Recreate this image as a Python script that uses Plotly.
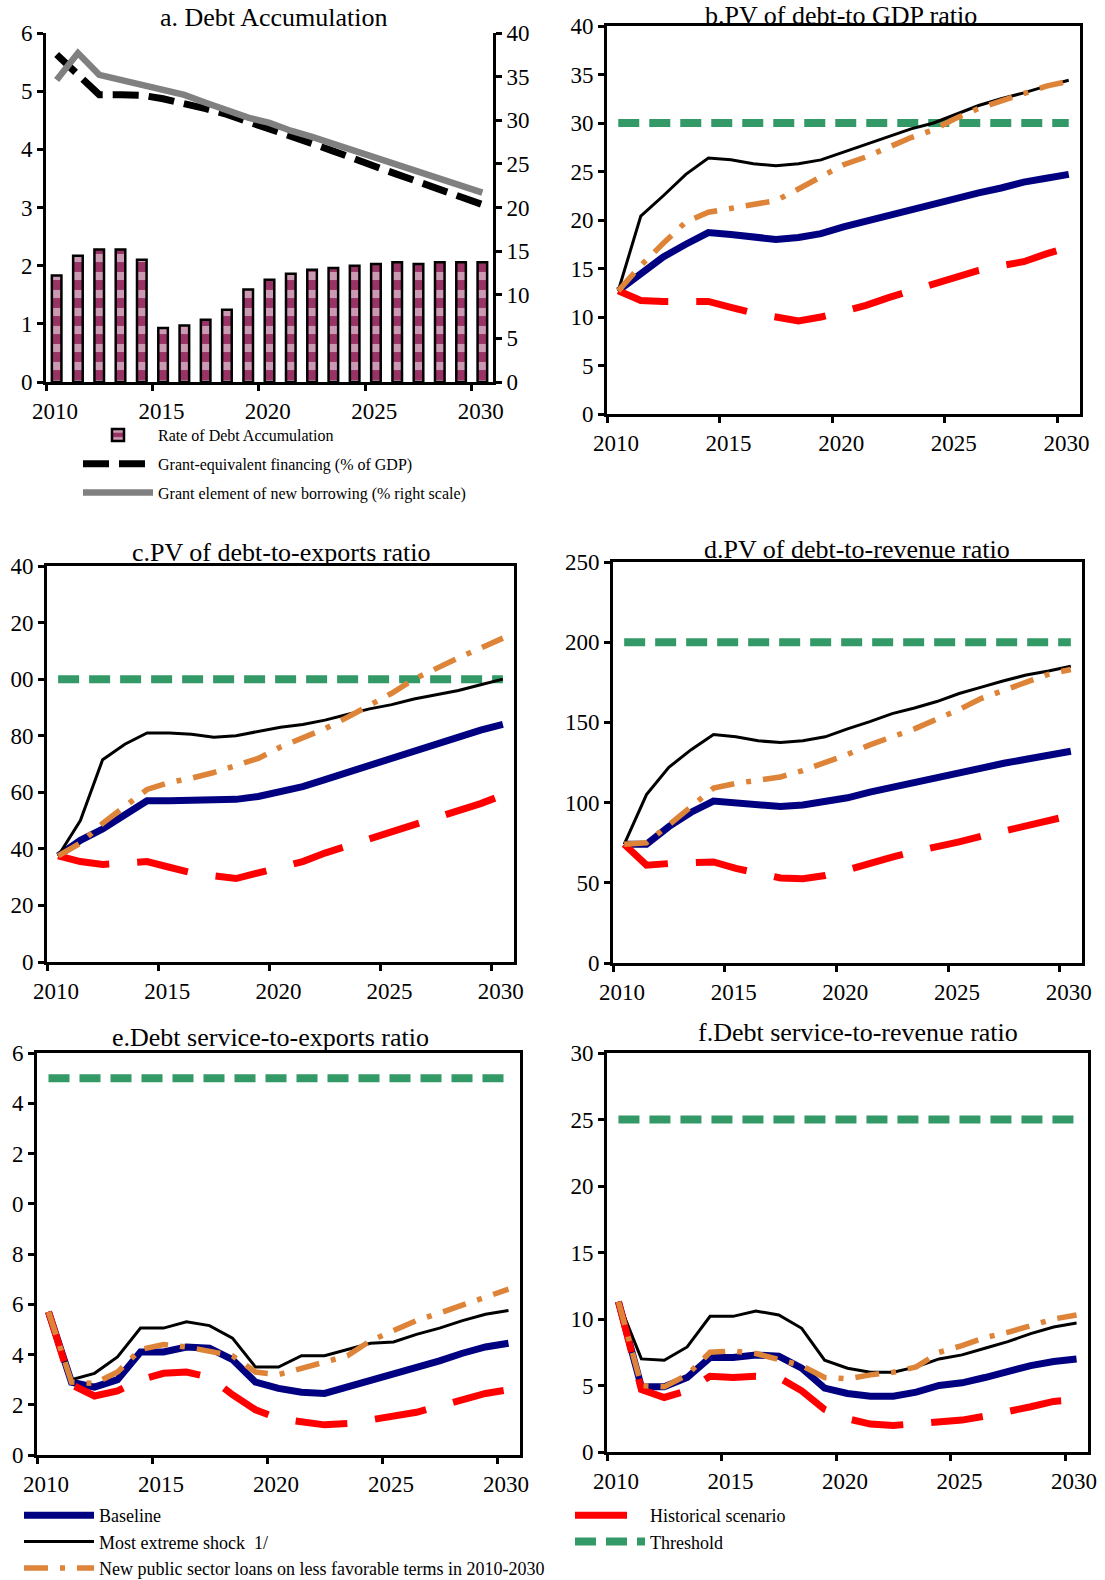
import plotly.graph_objects as go

W, H = 1105, 1580
FONT = "Liberation Serif"

years = list(range(2010, 2031))
tick_years = [2010, 2015, 2020, 2025, 2030]

# ---- Panel a: Debt accumulation ----
debt_accum = [1.83, 2.17, 2.28, 2.28, 2.10, 0.93, 0.97, 1.07, 1.24, 1.59, 1.76,
              1.86, 1.93, 1.96, 2.00, 2.03, 2.06, 2.03, 2.06, 2.06, 2.06]
grant_equiv = [5.63, 5.30, 4.94, 4.94, 4.93, 4.87, 4.80, 4.70, 4.60, 4.48, 4.37,
               4.23, 4.10, 3.97, 3.85, 3.70, 3.57, 3.45, 3.32, 3.18, 3.05]
grant_element = [34.6, 37.7, 35.2, 34.6, 34.0, 33.5, 32.9, 32.0, 31.2, 30.3, 29.7,
                 28.8, 28.1, 27.3, 26.5, 25.6, 24.9, 24.0, 23.2, 22.4, 21.7]

# ---- Panel b: PV of debt-to-GDP ----
b_base = [12.7, 14.5, 16.2, 17.5, 18.7, 18.5, 18.3, 18.0, 18.2, 18.6, 19.3,
          19.9, 20.5, 21.0, 21.6, 22.2, 22.8, 23.3, 23.9, 24.3, 24.7]
b_ext = [12.7, 20.4, 22.5, 24.7, 26.4, 26.2, 25.8, 25.6, 25.8, 26.2, 27.0,
         27.8, 28.6, 29.4, 30.0, 30.9, 31.8, 32.5, 33.1, 33.8, 34.4]
b_new = [12.7, 15.3, 17.6, 19.8, 20.8, 21.2, 21.5, 22.0, 23.2, 24.5, 25.7,
         26.5, 27.5, 28.5, 29.3, 30.5, 31.5, 32.3, 33.0, 33.8, 34.3]
b_hist = [12.7, 11.7, 11.6, 11.6, 11.6, 11.0, 10.4, 10.0, 9.6, 10.0, 10.6,
          11.2, 12.0, 12.7, 13.3, 14.0, 14.8, 15.3, 15.7, 16.5, 17.2]
b_thr = 30

# ---- Panel c: PV of debt-to-exports ----
c_base = [37.5, 43.0, 47.0, 52.0, 57.0, 57.0, 57.0, 57.0, 57.5, 58.5, 60.0,
          62.0, 64.5, 67.0, 70.0, 72.5, 75.0, 77.5, 79.5, 82.0, 84.0]
c_ext = [37.5, 50.0, 71.5, 77.0, 81.0, 81.0, 80.5, 79.5, 80.0, 81.5, 83.0,
         84.0, 85.5, 87.5, 89.5, 91.0, 93.0, 94.5, 96.0, 98.0, 100.0]
c_new = [37.5, 42.0, 49.0, 55.0, 61.0, 63.5, 65.0, 67.0, 69.5, 72.0, 76.0,
         79.0, 82.5, 86.5, 90.5, 95.0, 100.0, 104.0, 107.5, 111.0, 114.5]
c_hist = [37.5, 35.5, 34.5, 35.0, 35.5, 33.5, 31.5, 30.5, 29.5, 31.5, 33.5,
          35.5, 38.5, 41.0, 43.5, 45.5, 48.5, 51.0, 53.5, 56.0, 59.0]
c_thr = 100
c_ticks = [0, 20, 40, 60, 80, 100, 120, 140]
c_ticklabels = ["0", "20", "40", "60", "80", "00", "20", "40"]

# ---- Panel d: PV of debt-to-revenue ----
d_base = [74, 74, 85, 94, 101, 100, 99, 97.5, 98.5, 100.5, 103,
          106.5, 109.5, 113, 116, 119.5, 122, 124.5, 127, 129.5, 132]
d_ext = [74, 105, 122, 133, 142.5, 141, 138.5, 137.5, 138.5, 141, 146,
         150.5, 155.5, 159, 163, 168, 172, 176, 179.5, 182, 185]
d_new = [74, 75, 86, 98, 109, 112, 114, 116, 120, 125, 130,
         136, 141, 146, 152, 158, 165, 170, 175, 180, 183]
d_hist = [74, 61, 62, 62.5, 63, 59, 55.5, 53, 52.5, 54.5, 58,
          62.5, 66, 69.5, 72, 75.5, 79, 82, 85, 88, 92]
d_thr = 200

# ---- Panel e: Debt service-to-exports ----
e_base = [5.7, 2.9, 2.7, 3.0, 4.1, 4.1, 4.3, 4.25, 3.8, 2.9, 2.65,
          2.5, 2.45, 2.7, 3.0, 3.2, 3.45, 3.75, 4.05, 4.3, 4.45]
e_ext = [5.7, 3.0, 3.25, 3.9, 5.05, 5.05, 5.3, 5.15, 4.65, 3.5, 3.5,
         3.95, 3.95, 4.2, 4.45, 4.5, 4.8, 5.05, 5.35, 5.6, 5.75]
e_new = [5.7, 2.9, 2.85, 3.3, 4.2, 4.4, 4.3, 4.1, 3.95, 3.3, 3.2,
         3.45, 3.7, 3.95, 4.55, 4.95, 5.35, 5.65, 5.95, 6.3, 6.6]
e_hist = [5.7, 2.8, 2.35, 2.55, 3.0, 3.25, 3.3, 3.1, 2.4, 1.8, 1.45,
          1.3, 1.2, 1.25, 1.4, 1.5, 1.7, 1.95, 2.2, 2.45, 2.6]
e_thr = 15
e_ticks = [0, 2, 4, 6, 8, 10, 12, 14, 16]
e_ticklabels = ["0", "2", "4", "6", "8", "0", "2", "4", "6"]

# ---- Panel f: Debt service-to-revenue ----
f_base = [11.3, 4.9, 4.9, 5.6, 7.1, 7.1, 7.3, 7.2, 6.3, 4.8, 4.4,
          4.2, 4.2, 4.5, 5.0, 5.2, 5.6, 6.1, 6.5, 6.8, 7.0]
f_ext = [11.3, 7.0, 6.9, 7.9, 10.2, 10.2, 10.6, 10.3, 9.3, 6.9, 6.3,
         6.0, 6.0, 6.4, 7.0, 7.3, 7.8, 8.3, 8.9, 9.4, 9.7]
f_new = [11.3, 5.0, 4.9, 5.8, 7.5, 7.6, 7.4, 7.0, 6.5, 5.6, 5.5,
         5.8, 6.0, 6.4, 7.5, 8.0, 8.6, 9.0, 9.5, 10.0, 10.3]
f_hist = [11.3, 4.7, 4.1, 4.6, 5.7, 5.6, 5.7, 5.6, 4.6, 3.2, 2.5,
          2.1, 2.0, 2.1, 2.3, 2.4, 2.7, 3.0, 3.4, 3.8, 3.95]
f_thr = 25

# ---- styles ----
NAVY, RED, ORANGE, GREEN = "#000080", "#FF0000", "#DE8439", "#339966"
MAROON, GRAY = "#993366", "#808080"


def fx(px):
    return px / W


def fy(py):
    return 1 - py / H


fig = go.Figure()

tickfont = dict(family=FONT, size=23, color="black")

# panel pixel boxes: (left, right, top, bottom) and title centre (x, y)
boxes = {
    "b": (607, 1080, 26, 414),
    "c": (47, 514, 566, 962),
    "d": (613, 1082, 562, 963),
    "e": (37, 520, 1053, 1455),
    "f": (607, 1088, 1053, 1452),
}
title_pos = {
    "b": (841, 15),
    "c": (281, 552),
    "d": (857, 549),
    "e": (270, 1037),
    "f": (858, 1032),
}

xaxis_common = dict(
    range=[2009.5, 2030.5], tickmode="array",
    tickvals=[y - 0.5 for y in tick_years], ticktext=[str(y) for y in tick_years],
    ticks="outside", ticklen=6, tickwidth=2.5, tickcolor="black",
    showline=True, linewidth=3, linecolor="black", showgrid=False, zeroline=False,
    tickfont=tickfont, automargin=False, ticklabelshift=9,
)
yaxis_common = dict(
    ticks="outside", ticklen=6, tickwidth=2.5, tickcolor="black",
    showline=True, linewidth=3, linecolor="black", showgrid=False, zeroline=False,
    tickfont=tickfont, automargin=False,
)

layout = dict(
    width=W, height=H, margin=dict(l=0, r=0, t=0, b=0, autoexpand=False),
    paper_bgcolor="white", plot_bgcolor="white",
    font=dict(family=FONT, color="black"),
)

# ---- Panel a axes ----
aL, aR, aT, aB = 46, 493, 33, 382
layout["xaxis"] = dict(xaxis_common, domain=[fx(aL), fx(aR)], anchor="y", mirror=False)
layout["yaxis"] = dict(yaxis_common, domain=[fy(aB), fy(aT)], anchor="x", range=[0, 6],
                       dtick=1, mirror=False)
layout["yaxis2"] = dict(yaxis_common, overlaying="y", side="right", anchor="x",
                        range=[0, 40], dtick=5, mirror=False)

fig.add_trace(go.Bar(
    x=years, y=debt_accum, xaxis="x", yaxis="y", width=0.45,
    name="Rate of Debt Accumulation",
    marker=dict(color=MAROON, line=dict(color="black", width=2.5),
                pattern=dict(shape="-", fgcolor="white", bgcolor=MAROON,
                             size=18, solidity=0.45)),
    legend="legend", legendgroup="a1",
))
fig.add_trace(go.Scatter(
    x=years, y=grant_equiv, xaxis="x", yaxis="y", mode="lines",
    name="Grant-equivalent financing (% of GDP)",
    line=dict(color="black", width=7, dash="26px,10px"),
    legend="legend", legendgroup="a2",
))
fig.add_trace(go.Scatter(
    x=years, y=grant_element, xaxis="x", yaxis="y2", mode="lines",
    name="Grant element of new borrowing (% right scale)",
    line=dict(color=GRAY, width=6.5),
    legend="legend", legendgroup="a3",
))

# ---- Panels b-f ----
panels = [
    ("b", b_base, b_ext, b_new, b_hist, b_thr, [0, 40], 5, None, None,
     "b.PV of debt-to GDP ratio"),
    ("c", c_base, c_ext, c_new, c_hist, c_thr, [0, 140], None, c_ticks, c_ticklabels,
     "c.PV of debt-to-exports ratio"),
    ("d", d_base, d_ext, d_new, d_hist, d_thr, [0, 250], 50, None, None,
     "d.PV of debt-to-revenue ratio"),
    ("e", e_base, e_ext, e_new, e_hist, e_thr, [0, 16], None, e_ticks, e_ticklabels,
     "e.Debt service-to-exports ratio"),
    ("f", f_base, f_ext, f_new, f_hist, f_thr, [0, 30], 5, None, None,
     "f.Debt service-to-revenue ratio"),
]

annotations = [dict(text="a. Debt Accumulation", x=fx(273), y=fy(18), xref="paper",
                    yref="paper", showarrow=False, font=dict(family=FONT, size=26),
                    xanchor="center", yanchor="middle")]

for i, (key, base, ext, new, hist, thr, yr, dt, tv, tt, title) in enumerate(panels):
    xn = i + 2
    yn = i + 3
    L, R, T, B = boxes[key]
    xa = dict(xaxis_common, domain=[fx(L), fx(R)], anchor=f"y{yn}", mirror=True)
    ya = dict(yaxis_common, domain=[fy(B), fy(T)], anchor=f"x{xn}", range=yr, mirror=True)
    if tv is not None:
        ya.update(tickmode="array", tickvals=tv, ticktext=tt)
    else:
        ya.update(dtick=dt)
    layout[f"xaxis{xn}"] = xa
    layout[f"yaxis{yn}"] = ya
    first = (key == "b")
    fig.add_trace(go.Scatter(
        x=years, y=[thr] * len(years), xaxis=f"x{xn}", yaxis=f"y{yn}", mode="lines",
        name="Threshold", line=dict(color=GREEN, width=8, dash="21px,10px"),
        showlegend=first, legend="legend3", legendgroup="t2", legendrank=2))
    fig.add_trace(go.Scatter(
        x=years, y=base, xaxis=f"x{xn}", yaxis=f"y{yn}", mode="lines",
        name="Baseline", line=dict(color=NAVY, width=7),
        showlegend=first, legend="legend2", legendgroup="g1", legendrank=1))
    fig.add_trace(go.Scatter(
        x=years, y=ext, xaxis=f"x{xn}", yaxis=f"y{yn}", mode="lines",
        name="Most extreme shock  1/", line=dict(color="black", width=3),
        showlegend=first, legend="legend2", legendgroup="g2", legendrank=2))
    fig.add_trace(go.Scatter(
        x=years, y=hist, xaxis=f"x{xn}", yaxis=f"y{yn}", mode="lines",
        name="Historical scenario", line=dict(color=RED, width=7, dash="52px,28px"),
        showlegend=first, legend="legend3", legendgroup="t1", legendrank=1))
    fig.add_trace(go.Scatter(
        x=years, y=new, xaxis=f"x{xn}", yaxis=f"y{yn}", mode="lines",
        name="New public sector loans on less favorable terms in 2010-2030",
        line=dict(color=ORANGE, width=5.5, dash="24px,12px,5px,12px"),
        showlegend=first, legend="legend2", legendgroup="g3", legendrank=3))
    tx, ty = title_pos[key]
    annotations.append(dict(text=title, x=fx(tx), y=fy(ty), xref="paper",
                            yref="paper", showarrow=False,
                            font=dict(family=FONT, size=26),
                            xanchor="center", yanchor="middle"))

layout["annotations"] = annotations
layout["legend"] = dict(x=fx(78), y=fy(418), xanchor="left", yanchor="top",
                        font=dict(family=FONT, size=16), itemwidth=70,
                        traceorder="grouped", tracegroupgap=5, bgcolor="rgba(0,0,0,0)")
layout["legend2"] = dict(x=fx(19), y=fy(1497), xanchor="left", yanchor="top",
                         font=dict(family=FONT, size=18), itemwidth=70,
                         traceorder="grouped", tracegroupgap=0, bgcolor="rgba(0,0,0,0)")
layout["legend3"] = dict(x=fx(570), y=fy(1497), xanchor="left", yanchor="top",
                         font=dict(family=FONT, size=18), itemwidth=70,
                         traceorder="grouped", tracegroupgap=0, bgcolor="rgba(0,0,0,0)")

fig.update_layout(**layout)
fig.write_html("out.html", config={"displayModeBar": False},
               post_script="document.body.style.margin='0px';")
